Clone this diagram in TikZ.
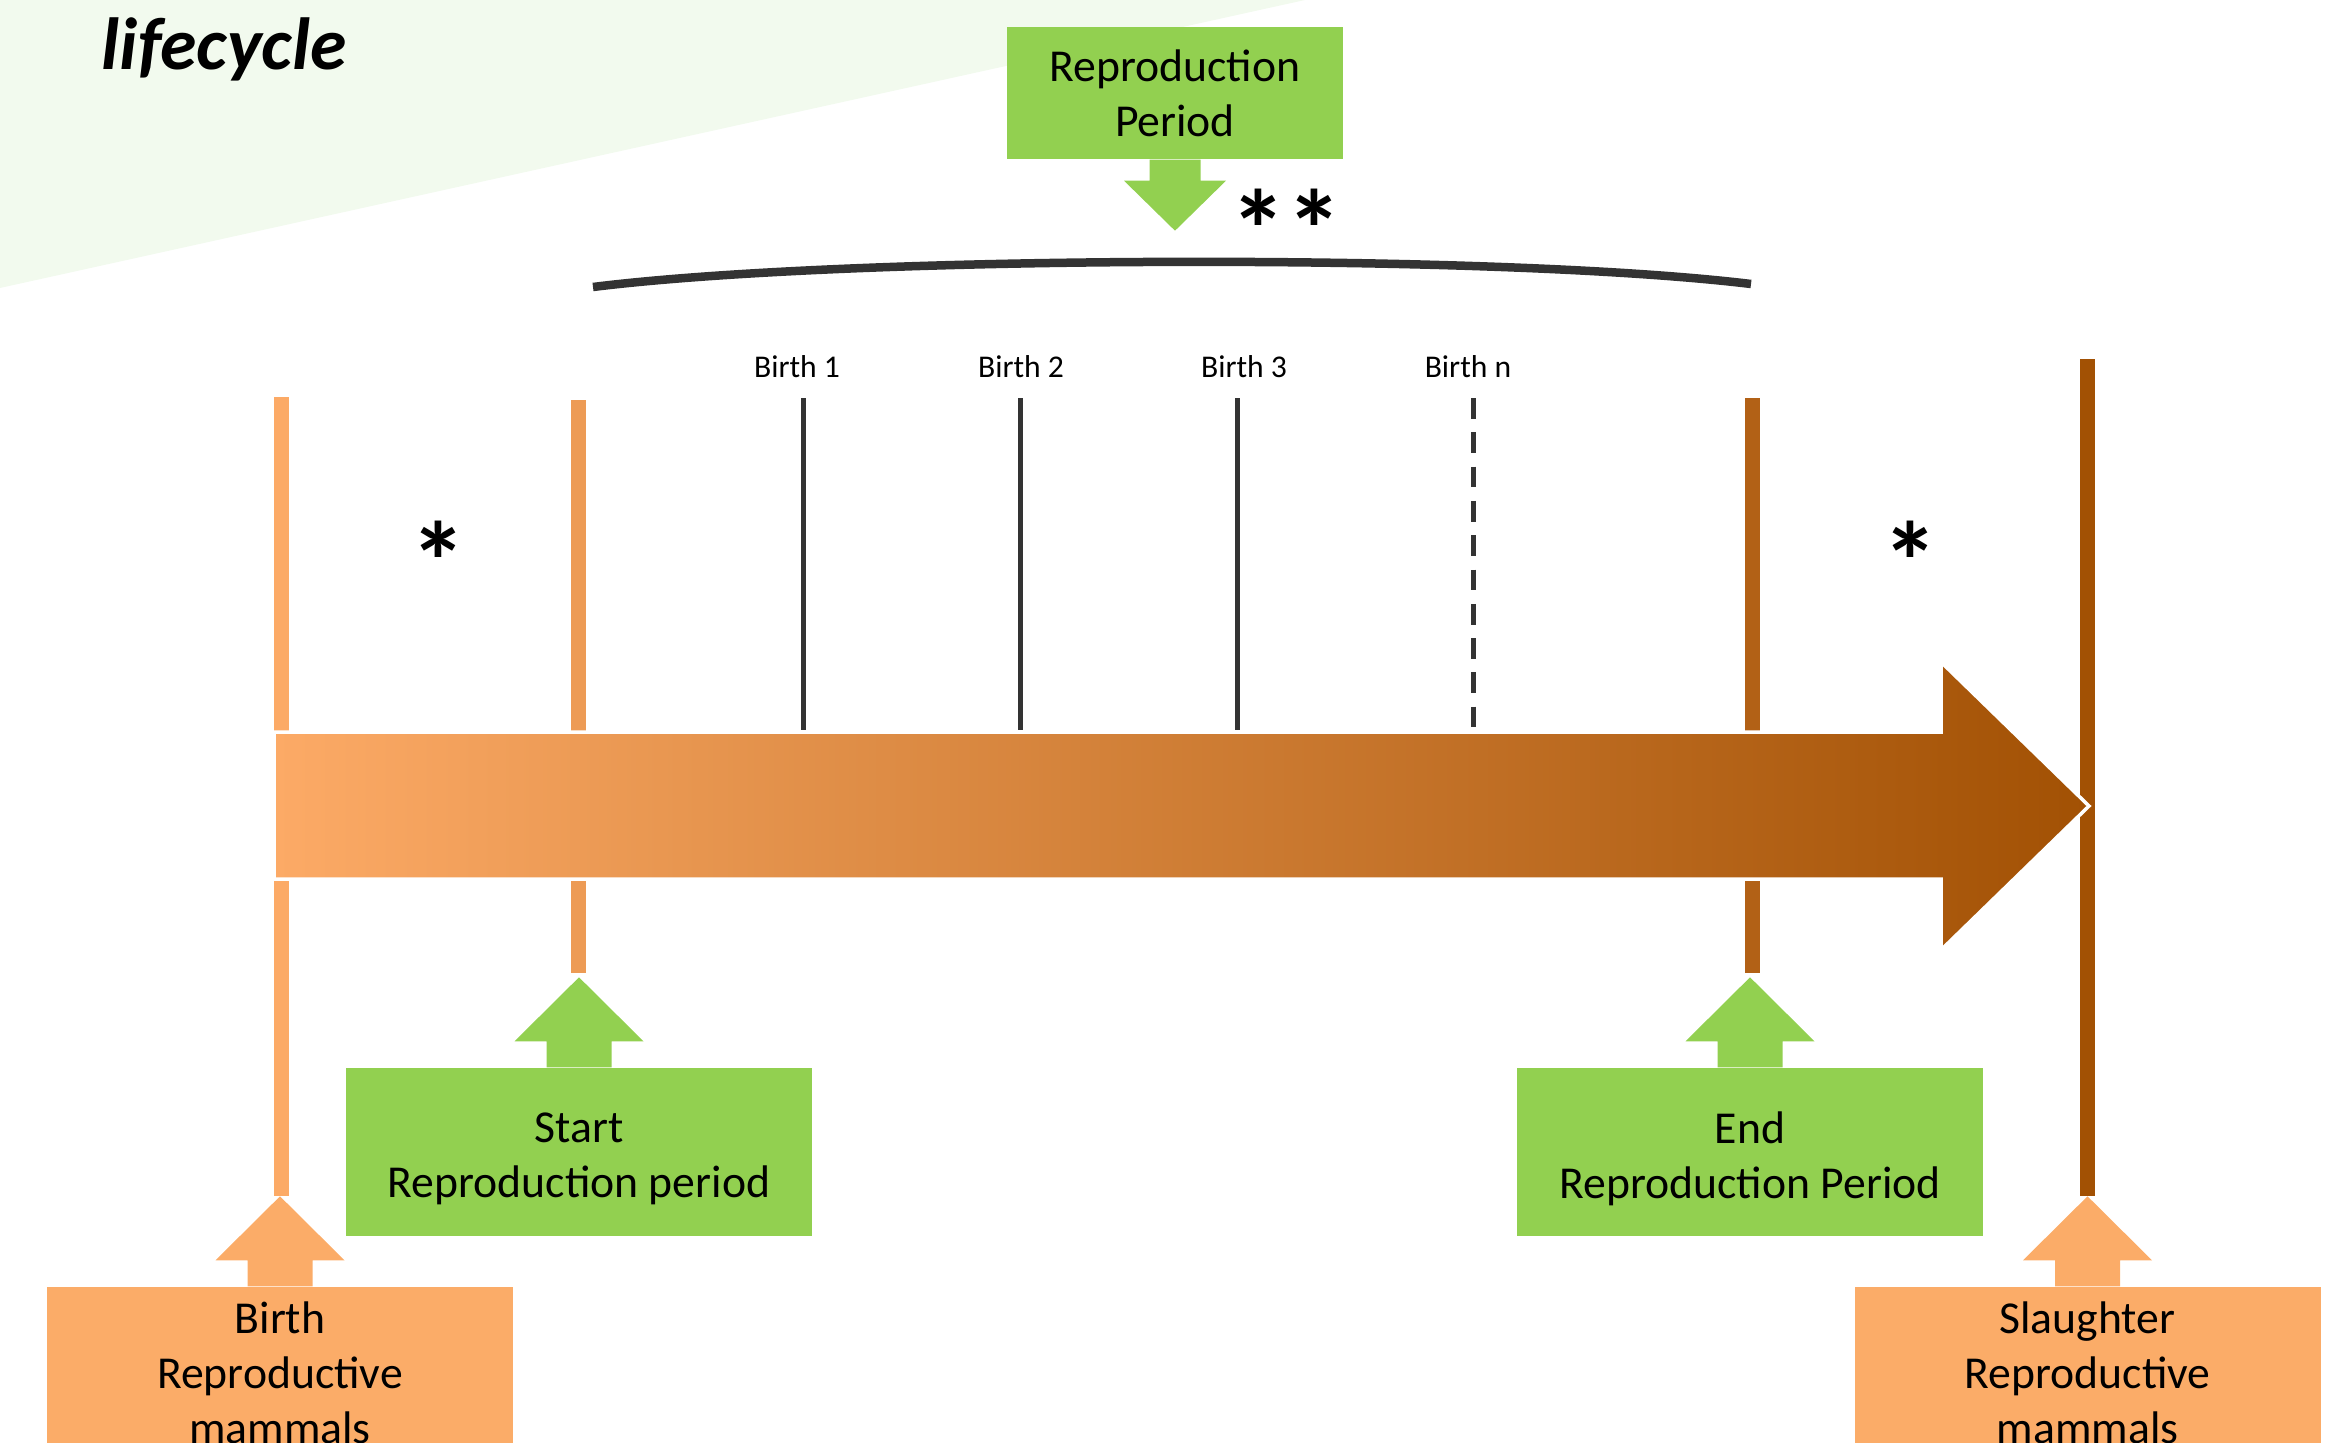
\documentclass[tikz,border=0pt]{standalone}
\usepackage{fontspec}
\setmainfont{Carlito}
\usetikzlibrary{positioning}

\definecolor{bggreen}{RGB}{242,250,238}
\definecolor{boxgreen}{RGB}{146,208,80}
\definecolor{boxorange}{RGB}{251,172,104}
\definecolor{arrowleft}{RGB}{252,170,102}
\definecolor{arrowright}{RGB}{162,81,4}
\definecolor{darkline}{RGB}{51,51,51}

\tikzset{
    boxtext/.style={inner sep=0pt, align=center, font=\fontsize{13}{15.6}\selectfont},
    greenbox/.style={boxtext, fill=boxgreen, minimum width=4.66cm, minimum height=1.68cm},
    orangebox/.style={greenbox, fill=boxorange, minimum height=1.72cm},
    birthlabel/.style={font=\fontsize{9}{11}\selectfont, inner sep=0pt},
    asterisk/.style={font=\bfseries\fontsize{32}{38}\selectfont, inner sep=0pt},
    marker/.style={line width=1.5mm},
}

% arrow pointing up out of the top of a box
\newcommand{\uparrowon}[2]{
    \fill[#2] ([xshift=-3.25mm]#1.north) -- ++(0,2.6mm) -- ++(-3.2mm,0) -- ++(6.45mm,6.4mm)
        -- ++(6.45mm,-6.4mm) -- ++(-3.2mm,0) -- ++(0,-2.6mm) -- cycle;
}

\begin{document}
\begin{tikzpicture}
    \useasboundingbox (0,0) rectangle (23.29,14.42);
    \clip (0,0) rectangle (23.29,14.42);
    \fill[bggreen] (0,14.42) -- (13.05,14.42) -- (0,11.54) -- cycle;
    \node[anchor=base west, inner sep=0pt, font=\bfseries\itshape\fontsize{21}{25}\selectfont] (title) at (1.01,13.72) {lifecycle};

    % time markers
    \foreach \x/\top/\bot/\col in {2.81/10.45/2.46/arrowleft, 5.78/10.42/4.69/arrowleft!83!arrowright,
                                  17.52/10.44/4.69/arrowleft!18!arrowright, 20.87/10.83/2.46/arrowright}
        \draw[marker, \col] (\x,\top) -- (\x,\bot);

    \foreach \x/\lx/\n in {8.03/7.97/1, 10.20/10.21/2, 12.37/12.44/3} {
        \draw[line width=0.5mm, darkline] (\x,10.44) -- (\x,7.12);
        \node[birthlabel] (birth\n) at (\lx,10.75) {Birth \n};
    }
    \draw[line width=0.5mm, darkline, dash pattern=on 2.07mm off 1.36mm] (14.73,10.44) -- (14.73,7.12);
    \node[birthlabel] (birthn) at (14.68,10.75) {Birth n};

    \path[left color=arrowleft, right color=arrowright, draw=white, line width=0.35mm]
        (2.74,7.10) -- (19.41,7.10) -- (19.41,7.80) -- (20.89,6.36) -- (19.41,4.92) -- (19.41,5.63) -- (2.74,5.63) -- cycle;

    \draw[darkline, line width=0.85mm] (5.93,11.55) .. controls (8.50,11.87) and (14.95,11.89) .. (17.51,11.58);

    \node[asterisk] (star1) at (4.39,8.81) {*};
    \node[asterisk] (star2) at (19.10,8.81) {*};
    \node[asterisk] (star3) at (12.86,12.13) {**};

    % boxes
    \node[greenbox, minimum width=3.36cm, minimum height=1.32cm] (period) at (11.75,13.49) {Reproduction\\Period};
    \fill[boxgreen] ([xshift=-2.55mm]period.south) -- ++(0,-2.1mm) -- ++(-2.55mm,0) -- ++(5.1mm,-5mm)
        -- ++(5.1mm,5mm) -- ++(-2.55mm,0) -- ++(0,2.1mm) -- cycle;

    \node[greenbox] (start) at (5.79,2.90) {};
    \node[boxtext] (starttext) at ([yshift=-0.7mm]start.center) {Start\\Reproduction period};
    \node[greenbox] (end) at (17.50,2.90) {};
    \node[boxtext] (endtext) at ([yshift=-0.7mm]end.center) {End\\Reproduction Period};
    \node[orangebox] (birth) at (2.80,0.69) {Birth\\Reproductive\\mammals};
    \node[orangebox] (slaughter) at (20.875,0.69) {Slaughter\\Reproductive\\mammals};

    \uparrowon{start}{boxgreen}
    \uparrowon{end}{boxgreen}
    \uparrowon{birth}{boxorange}
    \uparrowon{slaughter}{boxorange}
\end{tikzpicture}
\end{document}
